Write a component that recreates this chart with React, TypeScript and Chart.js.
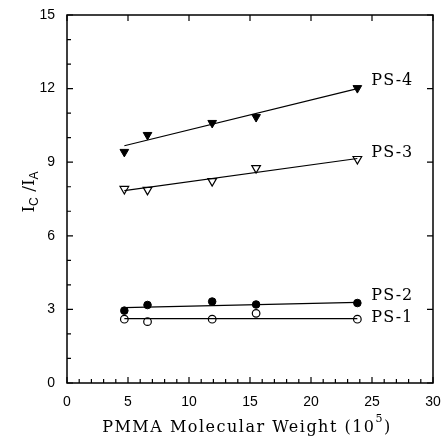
import React, { useEffect, useRef } from "react";
import { Chart, registerables } from "chart.js";

Chart.register(...registerables);

// PMMA molecular weight (10^5)
const molWeight = [4.7, 6.6, 11.9, 15.5, 23.8];
// I_C / I_A values
const ps1 = [2.6, 2.5, 2.6, 2.84, 2.6];
const ps2 = [2.95, 3.18, 3.32, 3.2, 3.26];
const ps3 = [7.91, 7.87, 8.23, 8.76, 9.13];
const ps4 = [9.42, 10.11, 10.6, 10.84, 12.02];
// fitted lines (end points)
const fitX = [4.7, 23.8];
const fit1 = [2.62, 2.62];
const fit2 = [3.07, 3.29];
const fit3 = [7.84, 9.15];
const fit4 = [9.67, 12.0];

const seriesNames = ["PS-1", "PS-2", "PS-3", "PS-4"];

const xMajorTicks = [0, 5, 10, 15, 20, 25, 30];
const xMinorTicks = [1, 2, 3, 4, 6, 7, 8, 9, 11, 12, 13, 14, 16, 17, 18, 19, 21, 22, 23, 24, 26, 27, 28, 29];
const yMajorTicks = [0, 3, 6, 9, 12, 15];
const yMinorTicks = [1, 2, 4, 5, 7, 8, 10, 11, 13, 14];

const xTitleMain = "PMMA Molecular Weight (10";
const xTitleSup = "5";
const xTitleEnd = ")";

const SERIF = "'DejaVu Serif', 'Liberation Serif', serif";
const SANS = "'Liberation Sans', Arial, sans-serif";

const pts = (ys: number[]) => molWeight.map((x, i) => ({ x, y: ys[i] }));
const fitPts = (ys: number[]) => fitX.map((x, i) => ({ x, y: ys[i] }));

const framePlugin = {
  id: "frameAndLabels",
  afterDatasetsDraw(chart: any) {
    const { ctx, chartArea: a, scales } = chart;
    const xs = scales.x;
    const ys = scales.y;
    ctx.save();
    ctx.strokeStyle = "#000";
    ctx.lineWidth = 1.5;
    ctx.strokeRect(a.left, a.top, a.right - a.left, a.bottom - a.top);
    ctx.lineWidth = 1.2;
    ctx.beginPath();
    const major = 6;
    const minor = 4;
    xMajorTicks.forEach((v) => {
      const p = xs.getPixelForValue(v);
      ctx.moveTo(p, a.bottom);
      ctx.lineTo(p, a.bottom - major);
      ctx.moveTo(p, a.top);
      ctx.lineTo(p, a.top + major);
    });
    xMinorTicks.forEach((v) => {
      const p = xs.getPixelForValue(v);
      ctx.moveTo(p, a.bottom);
      ctx.lineTo(p, a.bottom - minor);
    });
    yMajorTicks.forEach((v) => {
      const p = ys.getPixelForValue(v);
      ctx.moveTo(a.left, p);
      ctx.lineTo(a.left + major, p);
      ctx.moveTo(a.right, p);
      ctx.lineTo(a.right - major, p);
    });
    yMinorTicks.forEach((v) => {
      const p = ys.getPixelForValue(v);
      ctx.moveTo(a.left, p);
      ctx.lineTo(a.left + minor, p);
    });
    ctx.stroke();

    // series labels next to last points
    const lastIdx = molWeight.length - 1;
    const series = [ps1, ps2, ps3, ps4];
    const dys = [-1.5, -7, -6.5, -7];
    ctx.fillStyle = "#000";
    ctx.font = `16px ${SERIF}`;
    (ctx as any).letterSpacing = "1px";
    ctx.textAlign = "left";
    ctx.textBaseline = "middle";
    series.forEach((s, i) => {
      const px = xs.getPixelForValue(molWeight[lastIdx]) + 14;
      const py = ys.getPixelForValue(s[lastIdx]) + dys[i];
      ctx.fillText(seriesNames[i], px, py);
    });

    // x title with superscript
    (ctx as any).letterSpacing = "1.5px";
    ctx.textBaseline = "alphabetic";
    ctx.font = `16px ${SERIF}`;
    const w1 = ctx.measureText(xTitleMain).width;
    ctx.font = `11px ${SERIF}`;
    const w2 = ctx.measureText(xTitleSup).width;
    ctx.font = `16px ${SERIF}`;
    const w3 = ctx.measureText(xTitleEnd).width;
    const total = w1 + w2 + w3;
    const cx = (a.left + a.right) / 2 - 3;
    let tx = cx - total / 2;
    const base = 432;
    ctx.fillText(xTitleMain, tx, base);
    tx += w1;
    ctx.font = `11px ${SERIF}`;
    ctx.fillText(xTitleSup, tx, base - 10);
    tx += w2;
    ctx.font = `16px ${SERIF}`;
    ctx.fillText(xTitleEnd, tx, base);
    (ctx as any).letterSpacing = "0px";

    // y title: I_C /I_A rotated
    ctx.save();
    ctx.translate(34, (a.top + a.bottom) / 2 - 7);
    ctx.rotate(-Math.PI / 2);
    const segs = [
      { t: "I", f: `17px ${SERIF}`, dy: 0 },
      { t: "C", f: `12px ${SANS}`, dy: 4 },
      { t: " /", f: `17px ${SERIF}`, dy: 0 },
      { t: "I", f: `17px ${SERIF}`, dy: 0 },
      { t: "A", f: `12px ${SANS}`, dy: 4 },
    ];
    let tw = 0;
    segs.forEach((s) => {
      ctx.font = s.f;
      tw += ctx.measureText(s.t).width;
    });
    let sx = -tw / 2;
    segs.forEach((s) => {
      ctx.font = s.f;
      ctx.fillText(s.t, sx, s.dy);
      sx += ctx.measureText(s.t).width;
    });
    ctx.restore();
    ctx.restore();
  },
};

export default function App() {
  const ref = useRef<HTMLCanvasElement | null>(null);
  useEffect(() => {
    if (!ref.current) return;
    const lineDs = (ys: number[]) => ({
      data: fitPts(ys),
      showLine: true,
      borderColor: "#000",
      borderWidth: 1.2,
      pointRadius: 0,
      fill: false,
    });
    const chart = new Chart(ref.current, {
      type: "scatter",
      data: {
        datasets: [
          lineDs(fit1),
          lineDs(fit2),
          lineDs(fit3),
          lineDs(fit4),
          {
            label: seriesNames[0],
            data: pts(ps1),
            pointStyle: "circle",
            pointRadius: 3.8,
            pointBackgroundColor: "#fff",
            pointBorderColor: "#000",
            pointBorderWidth: 1.2,
          },
          {
            label: seriesNames[1],
            data: pts(ps2),
            pointStyle: "circle",
            pointRadius: 3.8,
            pointBackgroundColor: "#000",
            pointBorderColor: "#000",
            pointBorderWidth: 1,
          },
          {
            label: seriesNames[2],
            data: pts(ps3),
            pointStyle: "triangle",
            rotation: 180,
            pointRadius: 5,
            pointBackgroundColor: "#fff",
            pointBorderColor: "#000",
            pointBorderWidth: 1.2,
          },
          {
            label: seriesNames[3],
            data: pts(ps4),
            pointStyle: "triangle",
            rotation: 180,
            pointRadius: 5,
            pointBackgroundColor: "#000",
            pointBorderColor: "#000",
            pointBorderWidth: 1,
          },
        ] as any,
      },
      options: {
        animation: false,
        responsive: false,
        devicePixelRatio: 1,
        layout: { padding: { left: 0, right: 12, top: 15, bottom: 0 } },
        plugins: { legend: { display: false }, tooltip: { enabled: false } },
        scales: {
          x: {
            type: "linear",
            min: 0,
            max: 30,
            ticks: { stepSize: 5, color: "#000", padding: 11, font: { family: SANS, size: 14 } },
            grid: { display: false, drawTicks: false },
            border: { display: false },
            afterFit: (s: any) => {
              s.height = 59;
              s.paddingLeft = 0;
              s.paddingRight = 0;
            },
          },
          y: {
            type: "linear",
            min: 0,
            max: 15,
            ticks: { stepSize: 3, color: "#000", padding: 12, font: { family: SANS, size: 14 } },
            grid: { display: false, drawTicks: false },
            border: { display: false },
            afterFit: (s: any) => {
              s.width = 67;
              s.paddingTop = 0;
              s.paddingBottom = 0;
            },
          },
        },
      } as any,
      plugins: [framePlugin],
    });
    return () => chart.destroy();
  }, []);
  return (
    <div style={{ position: "fixed", left: 0, top: 0, width: 445, height: 442, background: "#fff" }}>
      <canvas ref={ref} width={445} height={442} style={{ width: 445, height: 442 }} />
    </div>
  );
}
